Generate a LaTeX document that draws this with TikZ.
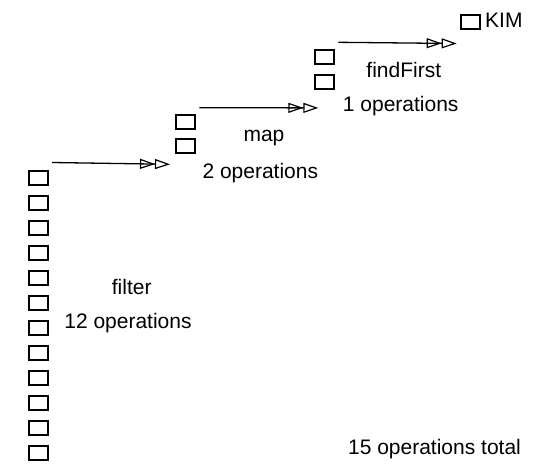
\documentclass[tikz,border=0pt]{standalone}
\usepackage{fontspec}
\setmainfont{Liberation Sans}
\usetikzlibrary{arrows.meta}
\begin{document}
\begin{tikzpicture}[x=1pt,y=-1pt,
  cell/.style={draw,line width=2pt,minimum width=19pt,minimum height=14pt,inner sep=0pt,anchor=north west},
  lbl/.style={font=\fontsize{21}{25}\selectfont,inner sep=0pt,anchor=base},
  flow/.style={line width=1.3pt,-{Triangle[open,length=15pt,width=10pt,line width=1.2pt]Triangle[open,length=15pt,width=10pt,line width=1.2pt]}}]
\useasboundingbox (0,0) rectangle (552,469);
% left column (filter)
\foreach \i in {0,...,11}{
  \node[cell] (f\i) at (28,{170+25*\i}) {};
}
% middle column (map)
\node[cell] (m0) at (175,114) {};
\node[cell] (m1) at (175,138) {};
% right column (findFirst)
\node[cell] (r0) at (314,49) {};
\node[cell] (r1) at (314,74) {};
% KIM
\node[cell] (k) at (459.5,14) {};
\node[lbl,anchor=base west] (kim) at (485,27.7) {KIM};
% labels
\node[lbl] (filt) at (131.7,294) {filter};
\node[lbl] (fops) at (128,328.5) {12 operations};
\node[lbl] (map) at (264,141.7) {map};
\node[lbl] (mops) at (260.3,178.3) {2 operations};
\node[lbl] (ff) at (403.8,77.7) {findFirst};
\node[lbl] (rops) at (400.7,111) {1 operations};
\node[lbl] (tot) at (434.5,454.3) {15 operations total};
% arrows
\coordinate (a1s) at (52,162.5);
\coordinate (a1e) at (170,164.3);
\coordinate (a2s) at (199.3,107.7);
\coordinate (a2e) at (318.3,107.9);
\coordinate (a3s) at (338.3,42.3);
\coordinate (a3e) at (456.7,43.5);
\draw[flow] (a1s) -- (a1e);
\draw[flow] (a2s) -- (a2e);
\draw[flow] (a3s) -- (a3e);
\end{tikzpicture}
\end{document}
